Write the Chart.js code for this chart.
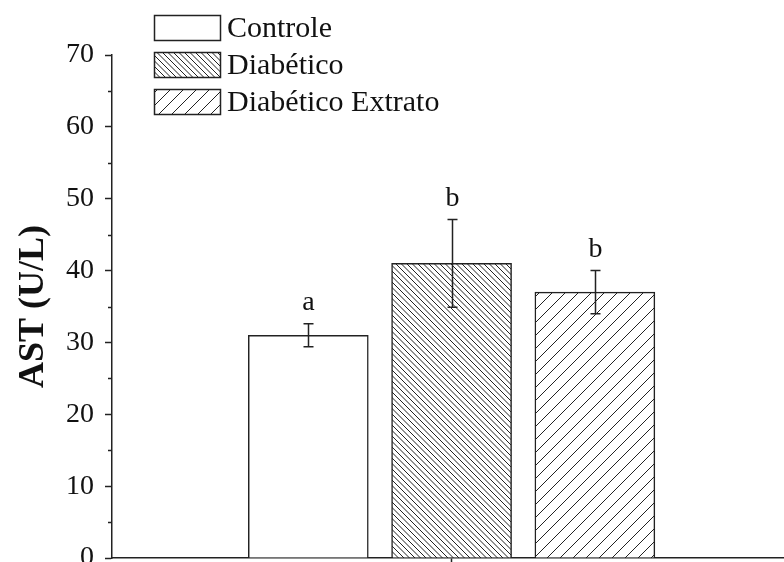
<!DOCTYPE html>
<html>
<head>
<meta charset="utf-8">
<script src="https://cdn.jsdelivr.net/npm/chart.js@4/dist/chart.umd.min.js"></script>
<style>
  html, body { margin: 0; padding: 0; background: #fff; overflow: hidden; }
  #wrap { width: 784px; height: 562px; }
</style>
</head>
<body>
<div id="wrap"><canvas id="c" width="784" height="562"></canvas></div>
<script>
// AST levels per group (U/L), mean and error
const categories = ['Controle', 'Diabético', 'Diabético Extrato'];
const astMeans = [31, 41, 37];
const astErrors = [1.6, 6.1, 3.0];
const groupLetters = ['a', 'b', 'b'];
const yTicks = [0, 10, 20, 30, 40, 50, 60, 70];
const yMinorTicks = [5, 15, 25, 35, 45, 55, 65];

const INK = '#222';
const SERIF = '"Liberation Serif", "Times New Roman", serif';

// Diagonal hatch fill; dir '/' or '\\', tile of given size holding n lines
function hatch(tile, n, dir, lw) {
  const c = document.createElement('canvas');
  c.width = c.height = tile;
  const g = c.getContext('2d');
  g.fillStyle = '#fff';
  g.fillRect(0, 0, tile, tile);
  g.strokeStyle = INK;
  g.lineWidth = lw;
  const step = tile / n;
  g.beginPath();
  for (let k = -tile; k <= tile; k += step) {
    if (dir === '/') {
      g.moveTo(k, tile); g.lineTo(k + tile, 0);
    } else {
      g.moveTo(k, 0); g.lineTo(k + tile, tile);
    }
  }
  g.stroke();
  return g.createPattern(c, 'repeat');
}

const fills = ['#ffffff', hatch(11, 2, '\\', 1), hatch(13, 1, '/', 1)];

const datasets = categories.map((name, i) => ({
  label: name,
  data: [{ x: i + 1, y: astMeans[i] }],
  backgroundColor: fills[i],
  borderColor: INK,
  borderWidth: 1.5,
  borderSkipped: 'bottom',
  barThickness: 120,
  grouped: false
}));

// minor ticks on the value axis
const minorTicks = {
  id: 'minorTicks',
  afterDraw(chart) {
    const ys = chart.scales.y, ctx = chart.ctx;
    ctx.save();
    ctx.strokeStyle = INK;
    ctx.lineWidth = 1.5;
    ctx.beginPath();
    yMinorTicks.forEach(v => {
      const py = Math.round(ys.getPixelForValue(v)) + 0.5;
      ctx.moveTo(ys.right - 4, py);
      ctx.lineTo(ys.right, py);
    });
    ctx.stroke();
    ctx.restore();
  }
};

// error bars and group letters above each bar
const errorBars = {
  id: 'errorBars',
  afterDatasetsDraw(chart) {
    const ys = chart.scales.y, ctx = chart.ctx;
    ctx.save();
    ctx.strokeStyle = INK;
    ctx.fillStyle = '#111';
    ctx.lineWidth = 1.5;
    ctx.font = '28px ' + SERIF;
    ctx.textAlign = 'center';
    ctx.textBaseline = 'alphabetic';
    categories.forEach((_, i) => {
      const el = chart.getDatasetMeta(i).data[0];
      const x = Math.round(el.x) + 0.5;
      const top = ys.getPixelForValue(astMeans[i] + astErrors[i]);
      const bot = ys.getPixelForValue(astMeans[i] - astErrors[i]);
      ctx.beginPath();
      ctx.moveTo(x, top); ctx.lineTo(x, bot);
      ctx.moveTo(x - 5, top); ctx.lineTo(x + 5, top);
      ctx.moveTo(x - 5, bot); ctx.lineTo(x + 5, bot);
      ctx.stroke();
      ctx.fillText(groupLetters[i], x, top - 14);
    });
    ctx.restore();
  }
};

// legend with hatched swatches in the upper left
const hatchLegend = {
  id: 'hatchLegend',
  afterDraw(chart) {
    const ctx = chart.ctx;
    ctx.save();
    ctx.font = '30px ' + SERIF;
    ctx.textAlign = 'left';
    ctx.textBaseline = 'alphabetic';
    chart.data.datasets.forEach((ds, i) => {
      const top = 15 + i * 37;
      ctx.fillStyle = ds.backgroundColor;
      ctx.fillRect(154, top, 66, 25);
      ctx.strokeStyle = INK;
      ctx.lineWidth = 1.5;
      ctx.strokeRect(154.5, top + 0.5, 66, 25);
      ctx.fillStyle = '#111';
      ctx.fillText(ds.label, 227, top + 22);
    });
    ctx.restore();
  }
};

new Chart(document.getElementById('c'), {
  type: 'bar',
  data: { datasets },
  options: {
    responsive: false,
    animation: false,
    devicePixelRatio: 1,
    layout: { padding: { top: 55, right: 0, bottom: 0, left: 0 } },
    plugins: { legend: { display: false }, tooltip: { enabled: false } },
    scales: {
      x: {
        type: 'linear',
        offset: false,
        min: -0.37,
        max: 4.32,
        afterBuildTicks: s => { s.ticks = [{ value: 2 }]; },
        ticks: { display: false },
        grid: { offset: false, drawOnChartArea: false, drawTicks: true, tickLength: 4, tickColor: INK, tickWidth: 1.5 },
        border: { color: INK, width: 1.5 }
      },
      y: {
        min: 0,
        max: 70,
        afterBuildTicks: s => { s.ticks = yTicks.map(v => ({ value: v })); },
        ticks: { font: { family: SERIF, size: 28 }, color: '#111', padding: 11 },
        grid: { drawOnChartArea: false, tickLength: 7, tickColor: INK, tickWidth: 1.5 },
        border: { color: INK, width: 1.5 },
        title: {
          display: true,
          text: 'AST (U/L)',
          font: { family: SERIF, size: 36, weight: 'bold' },
          color: '#111',
          padding: { top: 12, bottom: 0 }
        },
        afterFit: s => { s.width = 112; s.paddingTop = 0; s.paddingBottom = 0; }
      }
    }
  },
  plugins: [minorTicks, errorBars, hatchLegend]
});
</script>
</body>
</html>
